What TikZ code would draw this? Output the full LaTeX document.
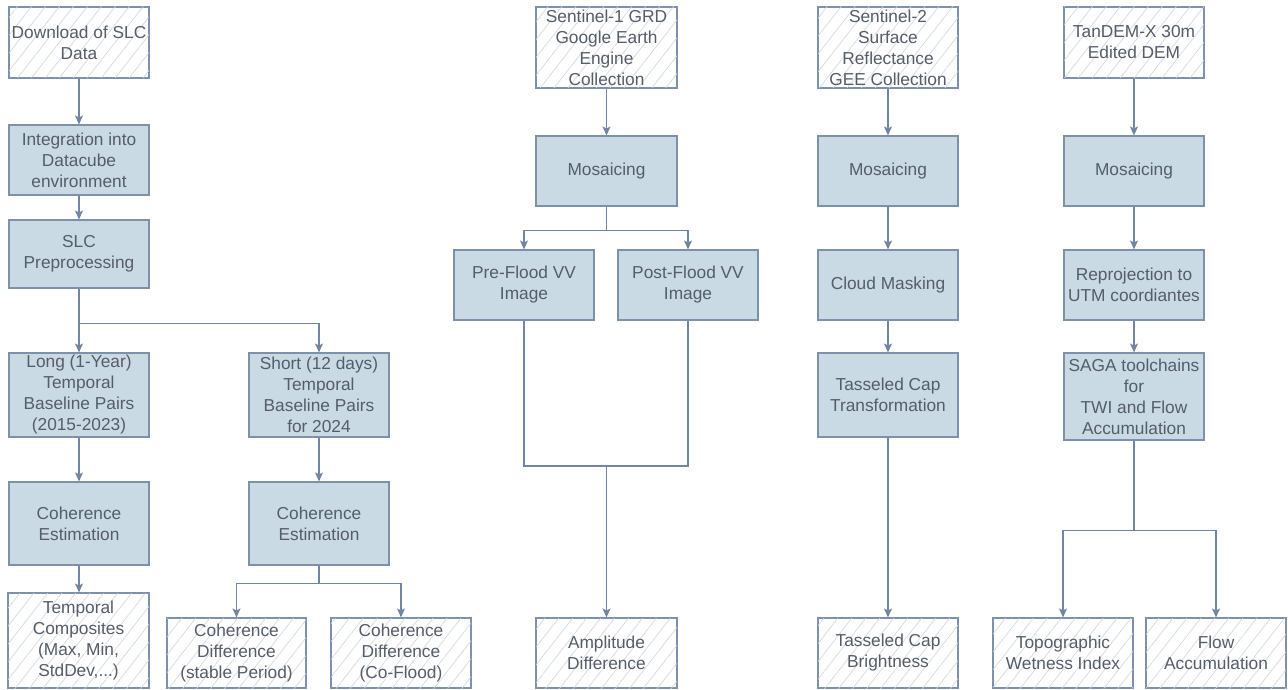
\documentclass[tikz,border=0pt]{standalone}
\usepackage{fontspec}
\setmainfont{Liberation Sans}
\usetikzlibrary{arrows.meta,patterns.meta}
\definecolor{boxfill}{HTML}{C9DAE5}
\definecolor{boxline}{HTML}{7D91AD}
\definecolor{conn}{HTML}{7086A4}
\definecolor{txt}{HTML}{555D68}
\definecolor{hatch}{HTML}{CDD6DF}
\tikzset{
  base/.style={draw=boxline, line width=1.1pt, text=txt, align=center,
    inner sep=0pt, font=\fontsize{17.3}{21}\selectfont},
  proc/.style={base, fill=boxfill},
  io/.style={base, fill=white, postaction={pattern={Lines[angle=52,distance=11pt,line width=0.6pt]}, pattern color=hatch}},
  arr/.style={draw=conn, line width=1.3pt, -{Stealth[length=9pt,width=8pt,inset=2pt]}},
  ln/.style={draw=conn, line width=1.3pt},
}
\begin{document}
\begin{tikzpicture}[x=1pt,y=-1pt]
\useasboundingbox (0,0) rectangle (1288,690);
% column 1
\node[io,   minimum width=140pt, minimum height=71pt] (dl)    at (79,42.5) {Download of SLC\\Data};
\node[proc, minimum width=140pt, minimum height=70pt] (integ) at (79,160) {Integration into\\Datacube\\environment};
\node[proc, minimum width=140pt, minimum height=68pt] (prep)  at (79,254) {SLC\\Preprocessing};
\node[proc, minimum width=140pt, minimum height=84pt] (long)  at (79,395) {Long (1-Year)\\Temporal\\Baseline Pairs\\(2015-2023)};
\node[proc, minimum width=140pt, minimum height=83pt] (coh1)  at (79,523.5) {Coherence\\Estimation};
\node[io,   minimum width=141pt, minimum height=95pt] (comp)  at (78.5,640.5) {Temporal\\Composites\\(Max, Min,\\StdDev,...)};
% column 2
\node[proc, minimum width=140pt, minimum height=84pt] (short) at (319,395) {Short (12 days)\\Temporal\\Baseline Pairs\\for 2024};
\node[proc, minimum width=140pt, minimum height=83pt] (coh2)  at (319,523.5) {Coherence\\Estimation};
\node[io,   minimum width=139pt, minimum height=70pt] (cd1)   at (236.5,653) {Coherence\\Difference\\(stable Period)};
\node[io,   minimum width=140pt, minimum height=70pt] (cd2)   at (401,653) {Coherence\\Difference\\(Co-Flood)};
% column 3
\node[io,   minimum width=141pt, minimum height=81pt] (s1)    at (606.5,47.5) {Sentinel-1 GRD\\Google Earth\\Engine\\Collection};
\node[proc, minimum width=141pt, minimum height=70pt] (mos1)  at (606.5,171) {Mosaicing};
\node[proc, minimum width=140pt, minimum height=70pt] (pre)   at (524,285) {Pre-Flood VV\\Image};
\node[proc, minimum width=140pt, minimum height=70pt] (post)  at (688,285) {Post-Flood VV\\Image};
\node[io,   minimum width=141pt, minimum height=70pt] (amp)   at (606.5,653) {Amplitude\\Difference};
% column 4
\node[io,   minimum width=140pt, minimum height=81pt] (s2)    at (888,47.5) {Sentinel-2\\Surface\\Reflectance\\GEE Collection};
\node[proc, minimum width=140pt, minimum height=70pt] (mos2)  at (888,171) {Mosaicing};
\node[proc, minimum width=140pt, minimum height=70pt] (cloud) at (888,285) {Cloud Masking};
\node[proc, minimum width=140pt, minimum height=84pt] (tct)   at (888,395) {Tasseled Cap\\Transformation};
\node[io,   minimum width=140pt, minimum height=70pt] (tcb)   at (888,653) {Tasseled Cap\\Brightness};
% column 5
\node[io,   minimum width=140pt, minimum height=71pt] (dem)   at (1134,42.5) {TanDEM-X 30m\\Edited DEM};
\node[proc, minimum width=140pt, minimum height=70pt] (mos3)  at (1134,171) {Mosaicing};
\node[proc, minimum width=140pt, minimum height=70pt] (rep)   at (1134,285) {Reprojection to\\UTM coordiantes};
\node[proc, minimum width=140pt, minimum height=87pt] (saga)  at (1134,396.5) {SAGA toolchains\\for\\TWI and Flow\\Accumulation};
\node[io,   minimum width=140pt, minimum height=70pt] (twi)   at (1063,653) {Topographic\\Wetness Index};
\node[io,   minimum width=140pt, minimum height=70pt] (fa)    at (1216,653) {Flow\\Accumulation};
% connectors column 1/2
\draw[arr] (dl) -- (integ);
\draw[arr] (integ) -- (prep);
\draw[arr] (prep) -- (long);
\draw[arr] (prep.south) -- ++(0,35) -| (short.north);
\draw[arr] (long) -- (coh1);
\draw[arr] (coh1.south) -- (comp.north -| coh1.south);
\draw[arr] (short) -- (coh2);
\draw[arr] (coh2.south) -- ++(0,18) -| (cd1.north);
\draw[arr] (coh2.south) -- ++(0,18) -| (cd2.north);
% column 3
\draw[arr] (s1) -- (mos1);
\draw[arr] (mos1.south) -- ++(0,24) -| (pre.north);
\draw[arr] (mos1.south) -- ++(0,24) -| (post.north);
\coordinate (m) at (606.5,466);
\draw[ln] (pre.south) |- (m) -| (post.south);
\draw[arr] (m) -- (amp.north);
% column 4
\draw[arr] (s2) -- (mos2);
\draw[arr] (mos2) -- (cloud);
\draw[arr] (cloud) -- (tct);
\draw[arr] (tct) -- (tcb);
% column 5
\draw[arr] (dem) -- (mos3);
\draw[arr] (mos3) -- (rep);
\draw[arr] (rep) -- (saga);
\draw[arr] (saga.south) -- ++(0,90) -| (twi.north);
\draw[arr] (saga.south) -- ++(0,90) -| (fa.north);
\end{tikzpicture}
\end{document}
